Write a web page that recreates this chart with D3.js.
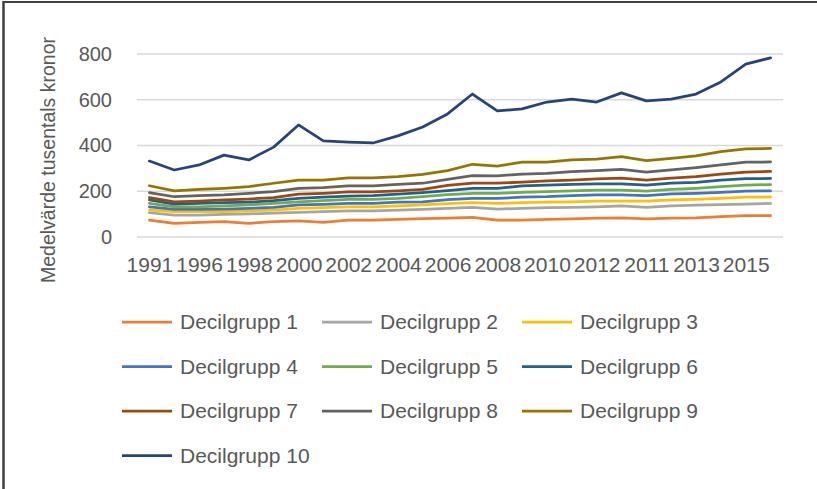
<!DOCTYPE html>
<html>
<head>
<meta charset="utf-8">
<script src="https://cdn.jsdelivr.net/npm/d3@7"></script>
<style>
  body { margin: 0; background: #fff; }
  svg { display: block; font-family: "Liberation Sans", Arial, sans-serif; }
</style>
</head>
<body>
<svg id="chart" width="817" height="489"></svg>
<script>
// x categories (only every other one is labelled in the chart)
const years = ['1991', '1995', '1996', '1997', '1998', '1999', '2000', '2001', '2002', '2003',
  '2004', '2005', '2006', '2007', '2008', '2009', '2010', '2011', '2012', '2010',
  '2011', '2012', '2013', '2014', '2015', '2016'];

const decil1 = [74, 60, 64, 67, 60, 67, 71, 64, 74, 74, 77, 80, 83, 86, 74, 74, 77, 79, 82, 84, 79, 82, 84, 89, 93, 93];
const decil2 = [106, 96, 96, 99, 101, 104, 108, 111, 114, 114, 118, 121, 125, 130, 122, 125, 128, 130, 132, 136, 130, 136, 139, 141, 144, 147];
const decil3 = [118, 111, 111, 111, 114, 118, 125, 128, 132, 132, 136, 140, 146, 150, 147, 150, 152, 154, 157, 157, 157, 162, 165, 169, 174, 175];
const decil4 = [132, 121, 121, 122, 125, 130, 140, 143, 147, 147, 152, 154, 163, 169, 169, 174, 176, 181, 184, 184, 181, 188, 191, 195, 201, 202];
const decil5 = [147, 132, 132, 136, 140, 147, 154, 159, 165, 165, 169, 176, 185, 191, 191, 195, 198, 202, 205, 205, 201, 208, 213, 220, 227, 229];
const decil6 = [162, 144, 147, 150, 152, 159, 169, 174, 179, 181, 187, 194, 203, 213, 213, 223, 227, 230, 232, 232, 227, 235, 239, 249, 255, 256];
const decil7 = [172, 154, 157, 162, 166, 172, 187, 191, 197, 197, 202, 208, 226, 235, 235, 240, 245, 249, 254, 257, 249, 257, 264, 275, 284, 287];
const decil8 = [194, 176, 181, 184, 191, 198, 213, 216, 223, 223, 230, 235, 252, 268, 267, 275, 278, 286, 290, 296, 284, 293, 303, 315, 327, 328];
const decil9 = [224, 202, 208, 213, 220, 235, 249, 249, 258, 258, 264, 274, 290, 318, 310, 327, 327, 337, 340, 351, 334, 344, 355, 373, 385, 387];
const decil10 = [332, 293, 315, 358, 337, 393, 490, 420, 415, 411, 442, 481, 538, 625, 551, 560, 590, 603, 590, 630, 595, 603, 625, 678, 756, 783];

const seriesNames = ['Decilgrupp 1', 'Decilgrupp 2', 'Decilgrupp 3', 'Decilgrupp 4', 'Decilgrupp 5',
  'Decilgrupp 6', 'Decilgrupp 7', 'Decilgrupp 8', 'Decilgrupp 9', 'Decilgrupp 10'];
const colors = ['#ED7D31', '#A5A5A5', '#FFC000', '#4472C4', '#70AD47',
  '#255E91', '#9E480E', '#636363', '#997300', '#264478'];
const yTicks = [0, 200, 400, 600, 800];

const series = [decil1, decil2, decil3, decil4, decil5, decil6, decil7, decil8, decil9, decil10]
  .map((values, i) => ({name: seriesNames[i], color: colors[i], values: values}));

const svg = d3.select('#chart');

const plot = {left: 137, right: 783, top: 54, bottom: 237};

const x = d3.scalePoint()
  .domain(d3.range(years.length))
  .range([plot.left, plot.right])
  .padding(0.5);

const y = d3.scaleLinear()
  .domain([0, 800])
  .range([plot.bottom, plot.top]);

// frame edges (left and top only, as in the picture)
svg.append('line')
  .attr('x1', 3.5).attr('x2', 3.5).attr('y1', 1).attr('y2', 489)
  .attr('stroke', '#404040').attr('stroke-width', 2.5);
svg.append('line')
  .attr('x1', 3).attr('x2', 817).attr('y1', 2).attr('y2', 2)
  .attr('stroke', '#404040').attr('stroke-width', 2);

// gridlines
svg.append('g')
  .selectAll('line')
  .data(yTicks)
  .enter().append('line')
    .attr('x1', plot.left)
    .attr('x2', plot.right)
    .attr('y1', d => y(d))
    .attr('y2', d => y(d))
    .attr('stroke', '#d9d9d9')
    .attr('stroke-width', 1.5);

// y axis labels
const yAxis = d3.axisLeft(y).tickValues(yTicks).tickSize(0).tickPadding(0);
svg.append('g')
    .attr('transform', 'translate(112,0)')
    .call(yAxis)
    .call(g => g.select('.domain').remove())
    .selectAll('text')
      .attr('fill', '#595959')
      .attr('font-size', 20)
      .attr('font-family', '"Liberation Sans", Arial, sans-serif');

// x axis labels
const xAxis = d3.axisBottom(x)
  .tickValues(d3.range(0, years.length, 2))
  .tickFormat(i => years[i])
  .tickSize(0)
  .tickPadding(0);
svg.append('g')
    .attr('transform', 'translate(0,' + plot.bottom + ')')
    .call(xAxis)
    .call(g => g.select('.domain').remove())
    .selectAll('text')
      .attr('fill', '#595959')
      .attr('font-size', 21)
      .attr('font-family', '"Liberation Sans", Arial, sans-serif')
      .attr('dy', 0)
      .attr('y', 35);

// axis title
svg.append('text')
  .attr('transform', 'translate(55,160) rotate(-90)')
  .attr('text-anchor', 'middle')
  .attr('fill', '#595959')
  .attr('font-size', 19.5)
  .text('Medelvärde tusentals kronor');

// lines
const line = d3.line()
  .x((d, i) => x(i))
  .y(d => y(d));

svg.append('g')
  .selectAll('path')
  .data(series)
  .enter().append('path')
    .attr('d', d => line(d.values))
    .attr('fill', 'none')
    .attr('stroke', d => d.color)
    .attr('stroke-width', 2.75)
    .attr('stroke-linejoin', 'round')
    .attr('stroke-linecap', 'round');

// legend
const legend = svg.append('g')
  .selectAll('g')
  .data(series)
  .enter().append('g')
    .attr('transform', (d, i) => 'translate(' + (122 + (i % 3) * 200) + ',' + (322 + Math.floor(i / 3) * 44.5) + ')');

legend.append('line')
  .attr('x1', 0)
  .attr('x2', 50)
  .attr('stroke', d => d.color)
  .attr('stroke-width', 2.75);

legend.append('text')
  .attr('x', 58)
  .attr('dy', '0.35em')
  .attr('fill', '#595959')
  .attr('font-size', 21)
  .text(d => d.name);
</script>
</body>
</html>
